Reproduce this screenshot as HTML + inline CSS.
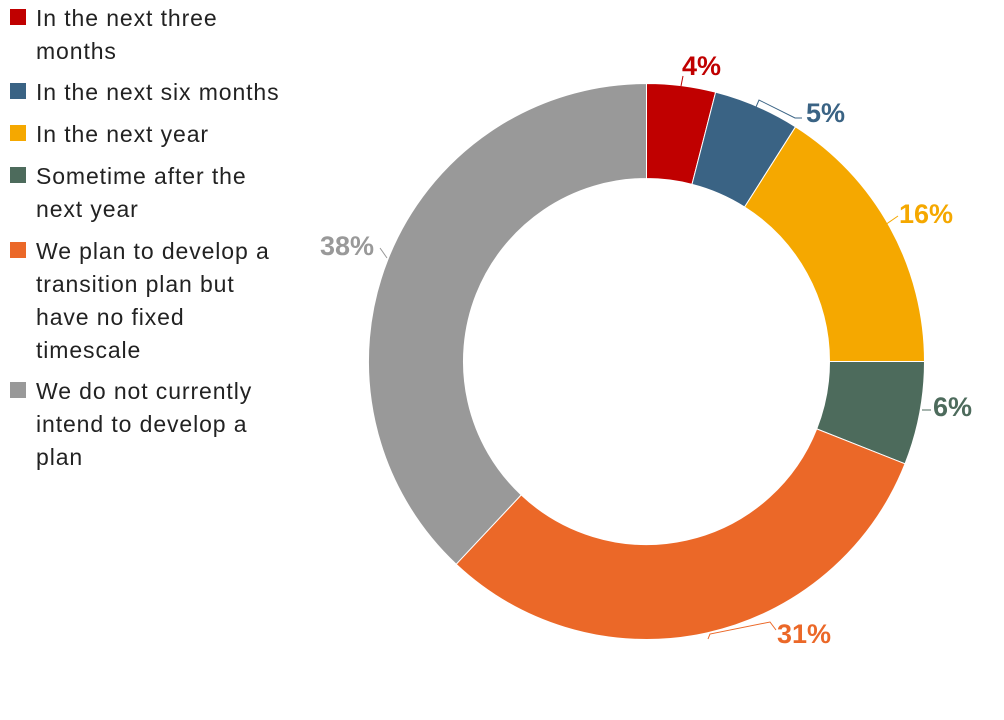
<!DOCTYPE html>
<html><head><meta charset="utf-8"><style>
body{margin:0;background:#fff;width:1004px;height:720px;overflow:hidden;font-family:"Liberation Sans",sans-serif;}
.leg{position:absolute;left:10px;font-size:23px;letter-spacing:0.9px;color:#222;line-height:33px;}
.leg div{position:relative;padding-left:26px;width:290px;}
.leg span{position:absolute;left:0;top:7px;width:16px;height:16px;}
</style></head><body>
<div class="leg" style="top:2px">
<div style="height:74px"><span style="background:#C00000"></span>In the next three<br>months</div>
<div style="height:42px"><span style="background:#3A6384"></span>In the next six months</div>
<div style="height:42px"><span style="background:#F5A800"></span>In the next year</div>
<div style="height:75px"><span style="background:#4D6B5C"></span>Sometime after the<br>next year</div>
<div style="height:140px"><span style="background:#EB6828"></span>We plan to develop a<br>transition plan but<br>have no fixed<br>timescale</div>
<div><span style="background:#999"></span>We do not currently<br>intend to develop a<br>plan</div>
</div>
<svg width="1004" height="720" style="position:absolute;left:0;top:0">
<g stroke="#fff" stroke-width="1">
<path d="M646.5,83.5 A278,278 0 0 1 715.6,92.2 L692,184.3 A183,183 0 0 0 646.5,178.5Z" fill="#C00000"/>
<path d="M715.6,92.2 A278,278 0 0 1 795.5,126.8 L744.6,207 A183,183 0 0 0 692,184.3Z" fill="#3A6384"/>
<path d="M795.5,126.8 A278,278 0 0 1 924.5,361.5 L829.5,361.5 A183,183 0 0 0 744.6,207Z" fill="#F5A800"/>
<path d="M924.5,361.5 A278,278 0 0 1 905,463.8 L816.7,428.9 A183,183 0 0 0 829.5,361.5Z" fill="#4D6B5C"/>
<path d="M905,463.8 A278,278 0 0 1 456.2,564.2 L521.2,494.9 A183,183 0 0 0 816.7,428.9Z" fill="#EB6828"/>
<path d="M456.2,564.2 A278,278 0 0 1 646.5,83.5 L646.5,178.5 A183,183 0 0 0 521.2,494.9Z" fill="#999"/>
</g>
<g fill="none" stroke-width="1">
<path d="M681,86 L683,76" stroke="#C00000"/>
<path d="M756,107 L759,100 L795,118 L802,118" stroke="#3A6384"/>
<path d="M885,225 L898,216" stroke="#F5A800"/>
<path d="M922,410 L931,410" stroke="#4D6B5C"/>
<path d="M708,639 L710,634 L770,622 L776,630" stroke="#EB6828"/>
<path d="M380,248 L387,258" stroke="#999"/>
</g>
<g font-family="Liberation Sans,sans-serif" font-size="27" font-weight="bold">
<text x="682" y="75" fill="#C00000">4%</text>
<text x="806" y="122" fill="#3A6384">5%</text>
<text x="899" y="223" fill="#F5A800">16%</text>
<text x="933" y="416" fill="#4D6B5C">6%</text>
<text x="777" y="643" fill="#EB6828">31%</text>
<text x="320" y="255" fill="#999">38%</text>
</g>
</svg>
</body></html>
